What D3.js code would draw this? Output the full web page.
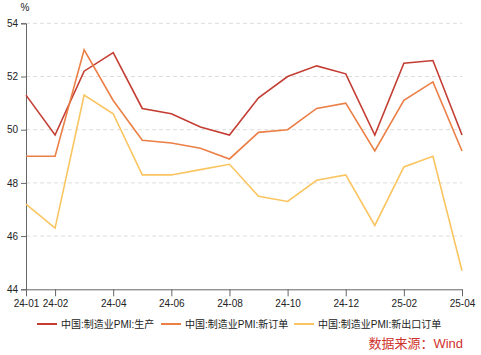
<!DOCTYPE html>
<html><head><meta charset="utf-8">
<script src="https://cdn.jsdelivr.net/npm/d3@7/dist/d3.min.js"></script>
<style>body{margin:0;background:#fff}svg{display:block}text{font-family:"Liberation Sans",Arial,"Noto Sans CJK SC",sans-serif}</style>
</head><body>
<script>
const months = ["24-01","24-02","24-03","24-04","24-05","24-06","24-07","24-08","24-09","24-10","24-11","24-12","25-01","25-02","25-03","25-04"];
const tickLabels = ["24-01","24-02","24-04","24-06","24-08","24-10","24-12","25-02","25-04"];
const yTicks = [44,46,48,50,52,54];
const seriesNames = ["中国:制造业PMI:生产","中国:制造业PMI:新订单","中国:制造业PMI:新出口订单"];
const production = [51.3,49.8,52.2,52.9,50.8,50.6,50.1,49.8,51.2,52.0,52.4,52.1,49.8,52.5,52.6,49.8];
const newOrders = [49.0,49.0,53.0,51.1,49.6,49.5,49.3,48.9,49.9,50.0,50.8,51.0,49.2,51.1,51.8,49.2];
const exportOrders = [47.2,46.3,51.3,50.6,48.3,48.3,48.5,48.7,47.5,47.3,48.1,48.3,46.4,48.6,49.0,44.7];
const colors = ["#c43d33","#eb7f45","#fac560"];
const source = "数据来源：Wind";

const W=481,H=355;
const svg=d3.select("body").append("svg").attr("width",W).attr("height",H);
const x=d3.scalePoint().domain(months).range([26,462]);
const y=d3.scaleLinear().domain([44,54]).range([289.3,23.3]);

// grid
svg.append("g").selectAll("line").data(yTicks.filter(d=>d>44)).join("line")
  .attr("x1",26).attr("x2",462).attr("y1",d=>y(d)).attr("y2",d=>y(d))
  .attr("stroke","#dddddd").attr("stroke-width",1).attr("stroke-dasharray","4,3");

// y axis
const ya=svg.append("g").attr("transform","translate(26,0)")
  .call(d3.axisLeft(y).tickValues(yTicks).tickSize(5).tickPadding(3));
ya.select(".domain").attr("stroke","#666");
ya.selectAll(".tick line").attr("stroke","#666");
ya.selectAll("text").attr("font-size",10).attr("fill","#222");

// x axis
const xa=svg.append("g").attr("transform","translate(0,289.3)")
  .call(d3.axisBottom(x).tickValues(tickLabels).tickSize(7).tickSizeOuter(0).tickPadding(4));
xa.select(".domain").attr("stroke","#666");
xa.selectAll(".tick line").attr("stroke","#666");
xa.selectAll("text").attr("font-size",10).attr("fill","#222");

svg.append("text").attr("x",25).attr("y",11).attr("text-anchor","middle").attr("font-size",10).attr("fill","#222").text("%");

const line=d3.line().x((d,i)=>x(months[i])).y(d=>y(d));
[production,newOrders,exportOrders].forEach((s,k)=>{
  svg.append("path").datum(s).attr("d",line).attr("fill","none").attr("stroke",colors[k]).attr("stroke-width",1.6);
});

// legend
const legX=[37,161,294];
seriesNames.forEach((n,k)=>{
  const g=svg.append("g").attr("transform",`translate(${legX[k]},324)`);
  g.append("line").attr("x1",0).attr("x2",20).attr("stroke",colors[k]).attr("stroke-width",2);
  g.append("text").attr("x",24).attr("y",3.5).attr("font-size",10).attr("fill","#222").text(n);
});

svg.append("text").attr("x",463).attr("y",348).attr("text-anchor","end").attr("font-size",13).attr("fill","#d0322c").text(source);
</script>
</body></html>
